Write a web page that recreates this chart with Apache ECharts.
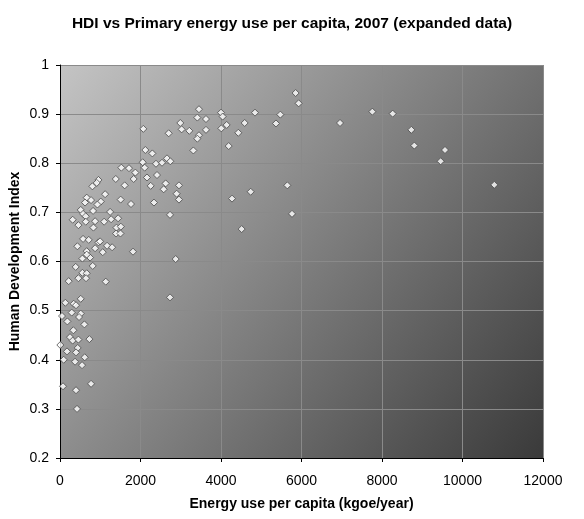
<!DOCTYPE html>
<html>
<head>
<meta charset="utf-8">
<script src="https://cdn.jsdelivr.net/npm/echarts@6/dist/echarts.min.js"></script>
<style>
    html, body { margin: 0; padding: 0; background: #fff; }
    #chart { width: 584px; height: 519px; }
</style>
</head>
<body>
<div id="chart"></div>
<script>
// energy use per capita (kgoe/year) and HDI
var energyUse = [
    5854, 5929, 3453, 4000, 4041, 3412, 3627, 4845, 5474, 2989,
    2070, 2700, 3022, 3213, 3627, 4008, 4141, 4588, 5366, 4430,
    3453, 3412, 4191, 3313, 2120, 2294, 2054, 2104, 2385, 2534,
    2658, 2741, 1714, 1524, 1872, 1830, 2161, 2410, 1607, 2253,
    2625, 2956, 2575, 2898, 2956, 2335, 1764, 1507, 4274, 4737,
    5648, 5764, 2733, 4513, 1814, 2874, 2733,
    7760, 8265, 6957, 8729, 8803, 9565, 9457, 10790,
    955, 913, 805, 1386, 1121, 1013, 930, 664, 772, 623,
    515, 822, 573, 1245, 315, 457, 639, 640, 872, 830,
    1096, 1270, 1444, 1403, 1511, 1394, 1502, 573, 714, 432,
    955, 996, 872, 1170, 1295, 664, 1062, 747, 664, 556,
    813, 390, 556, 664, 457, 647, 216, 1137, 515, 133,
    340, 398, 291, 515, 473, 50, 183, 606, 332, 249,
    315, 457, 730, 440, 8, 174, 398, 614, 91, 374,
    548, 75, 398, 772, 423
];
var hdi = [
    0.943, 0.922, 0.910, 0.903, 0.895, 0.893, 0.890, 0.903, 0.899, 0.882,
    0.870, 0.861, 0.869, 0.866, 0.868, 0.871, 0.878, 0.882, 0.881, 0.862,
    0.857, 0.850, 0.835, 0.826, 0.827, 0.820, 0.802, 0.791, 0.799, 0.801,
    0.810, 0.804, 0.790, 0.791, 0.781, 0.768, 0.771, 0.776, 0.755, 0.754,
    0.759, 0.755, 0.747, 0.738, 0.726, 0.720, 0.717, 0.726, 0.728, 0.742,
    0.755, 0.697, 0.695, 0.666, 0.620, 0.605, 0.527,
    0.905, 0.901, 0.882, 0.868, 0.836, 0.827, 0.804, 0.756,
    0.766, 0.760, 0.753, 0.768, 0.737, 0.722, 0.716, 0.730, 0.725, 0.720,
    0.705, 0.703, 0.697, 0.701, 0.685, 0.674, 0.692, 0.681, 0.682, 0.669,
    0.681, 0.686, 0.688, 0.669, 0.671, 0.657, 0.657, 0.646, 0.644, 0.631,
    0.639, 0.641, 0.627, 0.632, 0.629, 0.621, 0.619, 0.608, 0.614, 0.606,
    0.591, 0.589, 0.577, 0.576, 0.566, 0.566, 0.560, 0.559, 0.524, 0.516,
    0.514, 0.511, 0.496, 0.494, 0.487, 0.489, 0.478, 0.472, 0.460, 0.446,
    0.439, 0.441, 0.442, 0.424, 0.430, 0.417, 0.415, 0.405, 0.400, 0.396,
    0.389, 0.346, 0.338, 0.351, 0.300
];

var xTicks = [0, 2000, 4000, 6000, 8000, 10000, 12000];
var yTicks = [0.2, 0.3, 0.4, 0.5, 0.6, 0.7, 0.8, 0.9, 1];

var points = [];
for (var i = 0; i < energyUse.length; i++)
    points.push([energyUse[i], hdi[i]]);

var myChart = echarts.init(document.getElementById('chart'));

var labelFont = 'Arial, "Liberation Sans", sans-serif';

var option = {
    animation: false,
    title: {
        text: 'HDI vs Primary energy use per capita, 2007 (expanded data)',
        left: 'center',
        top: 11,
        textStyle: {
            fontFamily: labelFont,
            fontSize: 15.5,
            fontWeight: 'bold',
            color: '#000'
        }
    },
    grid: {
        left: 60,
        right: 41,
        top: 65,
        bottom: 61,
        outerBoundsMode: 'none',
        containLabel: false,
        show: true,
        borderWidth: 0,
        backgroundColor: {
            type: 'linear',
            x: 0, y: 0, x2: 1, y2: 1,
            colorStops: [
                {offset: 0, color: '#c4c4c4'},
                {offset: 1, color: '#3a3a3a'}
            ]
        }
    },
    xAxis: {
        type: 'value',
        min: xTicks[0],
        max: xTicks[xTicks.length - 1],
        interval: 2000,
        name: 'Energy use per capita (kgoe/year)',
        nameLocation: 'middle',
        nameGap: 39,
        nameMoveOverlap: false,
        nameTextStyle: {
            fontFamily: labelFont,
            fontSize: 14,
            fontWeight: 'bold',
            color: '#000'
        },
        axisLine: {onZero: false, lineStyle: {color: '#000', width: 1}},
        axisTick: {show: true, length: 4, lineStyle: {color: '#000'}},
        axisLabel: {
            fontFamily: labelFont,
            fontSize: 14,
            color: '#000',
            margin: 16,
            formatter: function (v) {
                return String(v);
            }
        },
        splitLine: {show: true, lineStyle: {color: '#8a8a8a', width: 1}}
    },
    yAxis: {
        type: 'value',
        min: yTicks[0],
        max: yTicks[yTicks.length - 1],
        interval: 0.1,
        name: 'Human Development Index',
        nameLocation: 'middle',
        nameGap: 38,
        nameMoveOverlap: false,
        nameTextStyle: {
            fontFamily: labelFont,
            fontSize: 14,
            fontWeight: 'bold',
            color: '#000'
        },
        axisLine: {onZero: false, lineStyle: {color: '#000', width: 1}},
        axisTick: {show: true, length: 4, lineStyle: {color: '#000'}},
        axisLabel: {
            fontFamily: labelFont,
            fontSize: 14,
            color: '#000',
            margin: 11,
            formatter: function (v) {
                return String(Math.round(v * 10) / 10);
            }
        },
        splitLine: {show: true, lineStyle: {color: '#8a8a8a', width: 1}}
    },
    series: [
        {
            name: 'HDI',
            type: 'scatter',
            symbol: 'diamond',
            symbolSize: 7,
            data: points,
            itemStyle: {
                color: '#ffffff',
                borderColor: '#4a4a4a',
                borderWidth: 1
            }
        }
    ]
};

myChart.setOption(option);
</script>
</body>
</html>
